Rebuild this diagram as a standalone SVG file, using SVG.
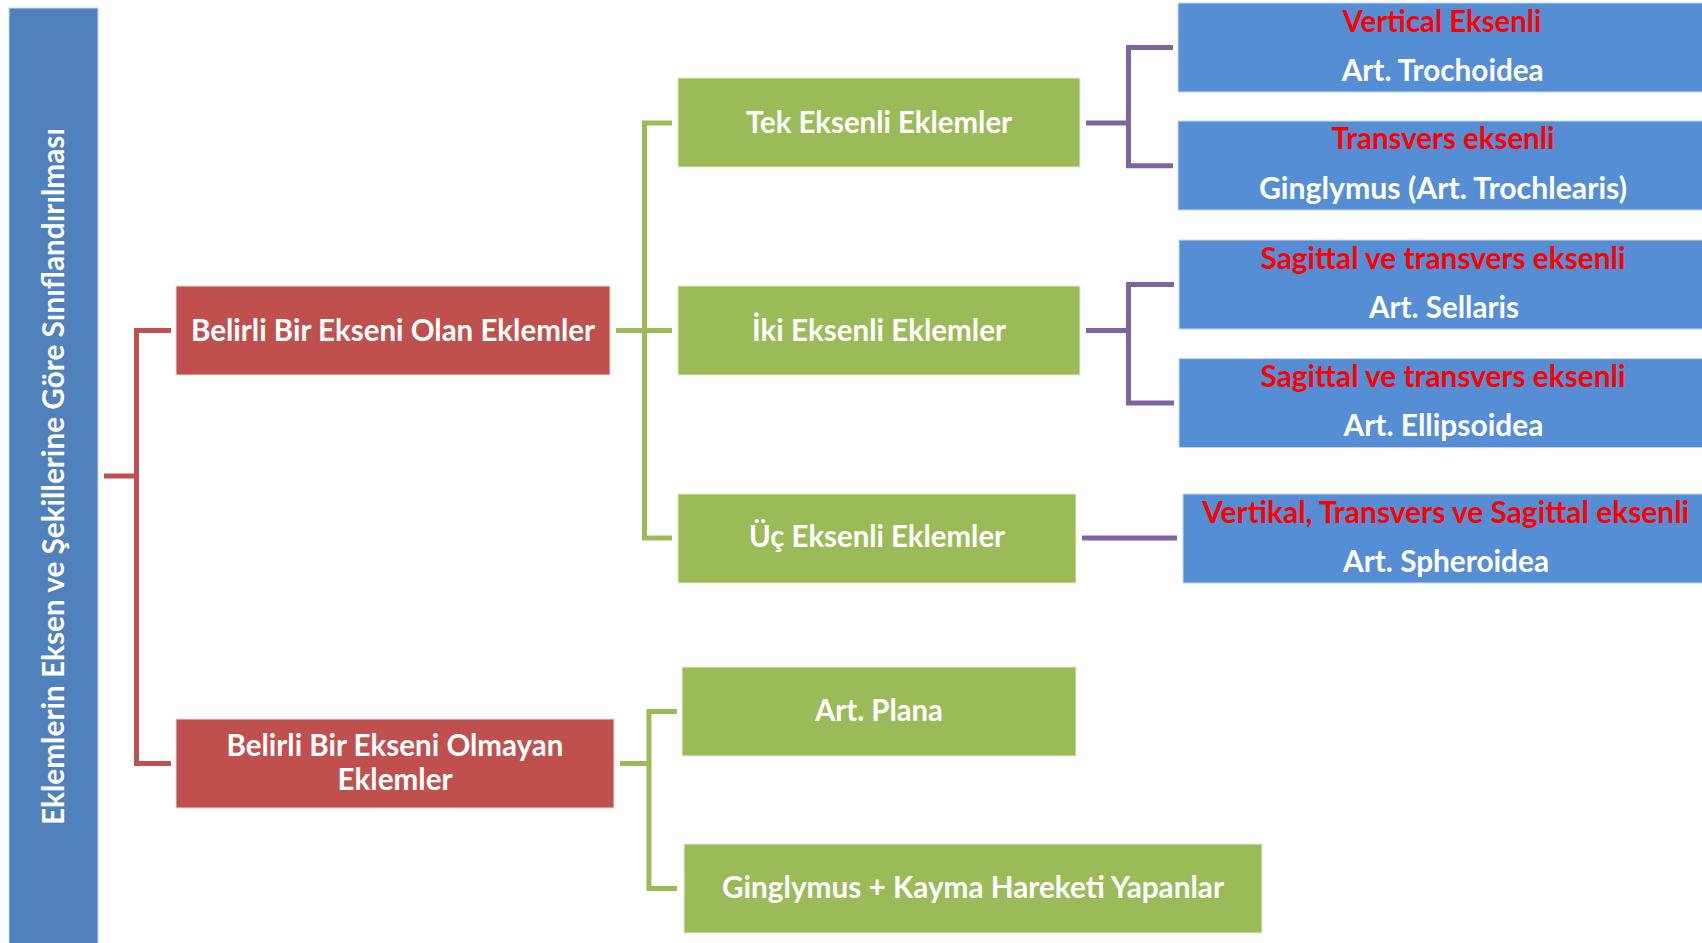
<svg xmlns="http://www.w3.org/2000/svg" width="1702" height="943" viewBox="0 0 1702 943">
<style>
.bg{fill:#ffffff}
.title{fill:#4F81BD;stroke:#C9D7EA;stroke-width:1}
.red{fill:#C0504D;stroke:#F2DCDB;stroke-width:1}
.green{fill:#9BBB59;stroke:#E6EED5;stroke-width:1}
.blue{fill:#558ED5;stroke:#C6D9F1;stroke-width:1}
text{font-family:Lato,"Open Sans","Liberation Sans",sans-serif;font-weight:bold;font-size:29.5px;text-anchor:middle}
.w{fill:#ffffff}
.r{fill:#FF0000}
.conn path{fill:none;stroke-width:5;stroke-linejoin:miter;stroke-linecap:butt}
.cr{stroke:#C0504D}
.cg{stroke:#9BBB59}
.cp{stroke:#8064A2}
</style>
<rect class="bg" x="0" y="0" width="1702" height="943"/>
<g id="connectors" class="conn">
<path class="cr" d="M171,330.5 H136.5 V763.5 H171"/>
<path class="cr" d="M104,476 H136.5"/>
<path class="cg" d="M616,330.5 H672"/>
<path class="cg" d="M672,123 H644.5 V538 H672"/>
<path class="cg" d="M620,763.5 H649"/>
<path class="cg" d="M677,711.5 H649 V888.5 H677"/>
<path class="cp" d="M1086,123 H1128.5"/>
<path class="cp" d="M1173,47.5 H1128.5 V165.8 H1173"/>
<path class="cp" d="M1086,330.5 H1128.5"/>
<path class="cp" d="M1174,284.5 H1128.5 V403 H1174"/>
<path class="cp" d="M1082,538 H1177"/>
</g>
<g id="node-title">
<rect class="title" x="9" y="8" width="89" height="945"/>
<text class="w" transform="translate(63.5,476.5) rotate(-90)" textLength="697" lengthAdjust="spacingAndGlyphs">Eklemlerin Eksen ve Şekillerine Göre Sınıflandırılması</text>
</g>
<g id="node-belirli-olan">
<rect class="red" x="176" y="286" width="434" height="89"/>
<text class="w" x="393" y="340.5" textLength="404" lengthAdjust="spacingAndGlyphs">Belirli Bir Ekseni Olan Eklemler</text>
</g>
<g id="node-belirli-olmayan">
<rect class="red" x="176" y="719" width="438" height="89"/>
<text class="w" x="395" y="755.5" textLength="337" lengthAdjust="spacingAndGlyphs">Belirli Bir Ekseni Olmayan</text>
<text class="w" x="395" y="790" textLength="115" lengthAdjust="spacingAndGlyphs">Eklemler</text>
</g>
<g id="node-tek">
<rect class="green" x="678" y="78" width="402" height="89"/>
<text class="w" x="879" y="132.5" textLength="266" lengthAdjust="spacingAndGlyphs">Tek Eksenli Eklemler</text>
</g>
<g id="node-iki">
<rect class="green" x="678" y="286" width="402" height="89"/>
<text class="w" x="879" y="340.5" textLength="254" lengthAdjust="spacingAndGlyphs">İki Eksenli Eklemler</text>
</g>
<g id="node-uc">
<rect class="green" x="678" y="494" width="398" height="89"/>
<text class="w" x="877" y="546.5" textLength="256" lengthAdjust="spacingAndGlyphs">Üç Eksenli Eklemler</text>
</g>
<g id="node-plana">
<rect class="green" x="682" y="667" width="394" height="89"/>
<text class="w" x="879" y="720.5" textLength="128" lengthAdjust="spacingAndGlyphs">Art. Plana</text>
</g>
<g id="node-ginglymus-kayma">
<rect class="green" x="684" y="844" width="578" height="89"/>
<text class="w" x="973" y="897.5" textLength="502" lengthAdjust="spacingAndGlyphs">Ginglymus + Kayma Hareketi Yapanlar</text>
</g>
<g id="node-trochoidea">
<rect class="blue" x="1178" y="3" width="540" height="89"/>
<text class="r" x="1442" y="32" textLength="199" lengthAdjust="spacingAndGlyphs">Vertical Eksenli</text>
<text class="w" x="1442.7" y="81" textLength="202" lengthAdjust="spacingAndGlyphs">Art. Trochoidea</text>
</g>
<g id="node-trochlearis">
<rect class="blue" x="1178" y="121" width="540" height="89"/>
<text class="r" x="1443" y="149" textLength="223" lengthAdjust="spacingAndGlyphs">Transvers eksenli</text>
<text class="w" x="1443" y="198.5" textLength="368" lengthAdjust="spacingAndGlyphs">Ginglymus (Art. Trochlearis)</text>
</g>
<g id="node-sellaris">
<rect class="blue" x="1179" y="240" width="540" height="89"/>
<text class="r" x="1443" y="268.5" textLength="365" lengthAdjust="spacingAndGlyphs">Sagittal ve transvers eksenli</text>
<text class="w" x="1444" y="318" textLength="150" lengthAdjust="spacingAndGlyphs">Art. Sellaris</text>
</g>
<g id="node-ellipsoidea">
<rect class="blue" x="1179" y="358.6" width="540" height="89"/>
<text class="r" x="1443" y="387" textLength="365" lengthAdjust="spacingAndGlyphs">Sagittal ve transvers eksenli</text>
<text class="w" x="1443.4" y="436" textLength="200" lengthAdjust="spacingAndGlyphs">Art. Ellipsoidea</text>
</g>
<g id="node-spheroidea">
<rect class="blue" x="1183" y="494" width="540" height="89"/>
<text class="r" x="1445.7" y="522.5" textLength="487" lengthAdjust="spacingAndGlyphs">Vertikal, Transvers ve Sagittal eksenli</text>
<text class="w" x="1446" y="571.5" textLength="206" lengthAdjust="spacingAndGlyphs">Art. Spheroidea</text>
</g>
</svg>
